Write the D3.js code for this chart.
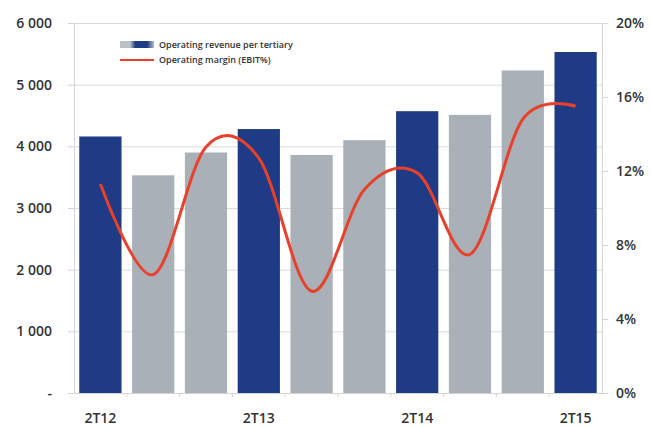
<!DOCTYPE html>
<html>
<head>
<meta charset="utf-8">
<script src="https://cdn.jsdelivr.net/npm/d3@7"></script>
<style>
  body { margin: 0; background: #fff; }
  text { font-family: "Open Sans", sans-serif; }
</style>
</head>
<body>
<div id="chart"></div>
<script>
// Data
const periods = ["2T12", "Q2", "Q3", "2T13", "Q5", "Q6", "2T14", "Q8", "Q9", "2T15"];
const revenue = [4160, 3530, 3900, 4280, 3860, 4100, 4570, 4510, 5230, 5530];
const margin = [11.3, 6.4, 13.3, 12.7, 5.5, 11.0, 11.9, 7.5, 14.8, 15.5];
const highlighted = ["2T12", "2T13", "2T14", "2T15"];
const leftTicks = [0, 1000, 2000, 3000, 4000, 5000, 6000];
const rightTicks = [0, 4, 8, 12, 16, 20];

const width = 651;
const height = 428;
const margins = { top: 23, right: 49, bottom: 35, left: 74 };

const svg = d3.select("#chart").append("svg").attr("width", width).attr("height", height);

const x = d3.scaleBand()
  .domain(periods)
  .range([margins.left, width - margins.right])
  .paddingInner(0.2)
  .paddingOuter(0.1);

const yLeft = d3.scaleLinear().domain([0, 6000]).range([height - margins.bottom, margins.top]);
const yRight = d3.scaleLinear().domain([0, 20]).range([height - margins.bottom, margins.top]);

// gridlines
svg.append("g")
  .selectAll("line")
  .data(leftTicks)
  .join("line")
  .attr("x1", margins.left)
  .attr("x2", width - margins.right)
  .attr("y1", (d) => yLeft(d) + 0.5)
  .attr("y2", (d) => yLeft(d) + 0.5)
  .style("stroke", "#dcdcdc")
  .style("stroke-width", 1);

// left axis
const fmt = (d) => (d === 0 ? "-" : d3.format(",")(d).replace(",", " "));
const gl = svg.append("g")
  .attr("transform", `translate(${margins.left},0)`)
  .call(d3.axisLeft(yLeft).tickValues(leftTicks).tickFormat(fmt).tickSize(6).tickPadding(16));
gl.select(".domain").style("stroke", "#d4d4d4");
gl.selectAll(".tick line").style("stroke", "#d4d4d4");
gl.selectAll("text")
  .style("font-size", "14px")
  .style("font-weight", 600)
  .style("fill", "#333");

// right axis
const gr = svg.append("g")
  .attr("transform", `translate(${width - margins.right},0)`)
  .call(d3.axisRight(yRight).tickValues(rightTicks).tickFormat((d) => d + "%").tickSize(6).tickPadding(8));
gr.select(".domain").style("stroke", "#d4d4d4");
gr.selectAll(".tick line").style("stroke", "#d4d4d4");
gr.selectAll("text")
  .style("font-size", "14px")
  .style("font-weight", 600)
  .style("fill", "#333");

// bars
svg.append("g")
  .selectAll("rect")
  .data(periods)
  .join("rect")
  .attr("x", (d) => x(d))
  .attr("width", x.bandwidth())
  .attr("y", (d, i) => yLeft(revenue[i]))
  .attr("height", (d, i) => yLeft(0) - yLeft(revenue[i]))
  .style("fill", (d) => (highlighted.includes(d) ? "#1f3b85" : "#a9b0b7"));

// bottom axis
const gb = svg.append("g")
  .attr("transform", `translate(0,${height - margins.bottom})`)
  .call(d3.axisBottom(x).tickSize(0).tickPadding(20).tickFormat((d) => (highlighted.includes(d) ? d : "")));
gb.select(".domain").style("stroke", "#d4d4d4");
gb.selectAll("text")
  .style("font-size", "14px")
  .style("font-weight", 600)
  .style("fill", "#333");

// small ticks between the categories
const gap = x.step() * x.paddingInner() / 2;
gb.append("g")
  .selectAll("line")
  .data(periods.slice(1))
  .join("line")
  .attr("x1", (d) => x(d) - gap)
  .attr("x2", (d) => x(d) - gap)
  .attr("y1", 0)
  .attr("y2", 4)
  .style("stroke", "#d4d4d4");

// margin line
const line = d3.line()
  .x((d, i) => x(periods[i]) + x.bandwidth() / 2)
  .y((d) => yRight(d))
  .curve(d3.curveCardinal.tension(0));

svg.append("path")
  .datum(margin)
  .attr("d", line)
  .style("fill", "none")
  .style("stroke", "#e8412b")
  .style("stroke-width", 3);

// legend
const grad = svg.append("defs").append("linearGradient").attr("id", "lg");
grad.append("stop").attr("offset", "0%").attr("stop-color", "#b8c0c8");
grad.append("stop").attr("offset", "30%").attr("stop-color", "#b8c0c8");
grad.append("stop").attr("offset", "45%").attr("stop-color", "#1f3b85");
grad.append("stop").attr("offset", "80%").attr("stop-color", "#1f3b85");
grad.append("stop").attr("offset", "100%").attr("stop-color", "#b8c0c8");

const legend = svg.append("g").attr("transform", "translate(120,45)");
legend.append("rect").attr("x", 0).attr("y", -4).attr("width", 34).attr("height", 7).style("fill", "url(#lg)");
legend.append("text").attr("x", 39).attr("y", 3).text("Operating revenue per tertiary")
  .style("font-size", "9px").style("font-weight", 600).style("fill", "#333");
legend.append("line").attr("x1", 0).attr("x2", 34).attr("y1", 15).attr("y2", 15)
  .style("stroke", "#e8412b").style("stroke-width", 2);
legend.append("text").attr("x", 39).attr("y", 18).text("Operating margin (EBIT%)")
  .style("font-size", "9px").style("font-weight", 600).style("fill", "#333");
</script>
</body>
</html>
